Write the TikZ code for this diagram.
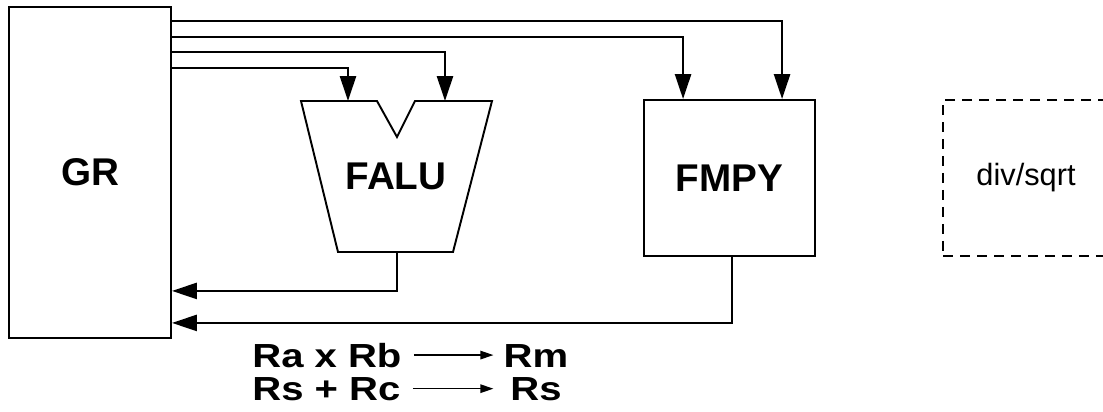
\documentclass[tikz,border=0pt]{standalone}
\usepackage{fontspec}
\setmainfont{Liberation Sans}
\newfontfamily\eqfont[FakeStretch=1.2]{Liberation Sans}
\usetikzlibrary{arrows.meta,calc,positioning}

\begin{document}
\begin{tikzpicture}[x=0.02cm,y=-0.02cm,
  unit/.style={rectangle,draw,line width=1.1pt,inner sep=0pt,
    font=\fontsize{22}{26}\selectfont\bfseries},
  wire/.style={line width=1.5pt,-{Triangle[length=0.5cm,width=0.32cm]}},
  dashbox/.style={rectangle,draw,line width=0.8pt,dash pattern=on 0.2cm off 0.14cm,
    inner sep=0pt,font=\fontsize{17.5}{21}\selectfont},
  eqn/.style={inner sep=0pt,anchor=base west,font=\eqfont\fontsize{19}{23}\selectfont\bfseries},
  eqarrow/.style={line width=0.8pt,-{Triangle[length=0.26cm,width=0.17cm]},
    shorten <=0.24cm,shorten >=0.2cm}
]
\clip (0,0) rectangle (1103,412);

% units
\node[unit,minimum width=3.24cm,minimum height=6.62cm] (gr) at (90,172.5) {GR};
\node[unit,minimum width=3.42cm,minimum height=3.12cm] (fmpy) at (729.5,178) {FMPY};

% FALU outline with notch
\draw[line width=1.1pt] (301,101) -- (377,101) -- (397,137) -- (415,101)
  -- (492,101) -- (453,252) -- (338,252) -- cycle;
\node[font=\fontsize{22}{26}\selectfont\bfseries] (falu) at (396,176) {FALU};
\coordinate (alu-a) at (348,101);
\coordinate (alu-b) at (445,101);
\coordinate (alu-out) at (397,252);

% unused unit, right side runs off the page
\node[dashbox,minimum width=3.32cm,minimum height=3.12cm] (dsq) at (1026,178) {div/sqrt};

% operand buses
\draw[wire] ($(gr.north east)+(0,15)$) -| ($(fmpy.north west)+(139,0)$);
\draw[wire] ($(gr.north east)+(0,31)$) -| ($(fmpy.north west)+(40,0)$);
\draw[wire] ($(gr.north east)+(0,46)$) -| (alu-b);
\draw[wire] ($(gr.north east)+(0,62)$) -| (alu-a);

% result buses
\draw[wire] (alu-out) |- ($(gr.south east)+(0,-48)$);
\draw[wire] ($(fmpy.south west)+(89,0)$) |- ($(gr.south east)+(0,-16)$);

% operations
\node[eqn] (rab) at (252,367) {Ra x Rb};
\node[eqn] (rsc) at (252,400) {Rs + Rc};
\node[eqn,anchor=base] (rm) at (536,367) {Rm};
\node[eqn,anchor=base] (rs) at (536,400) {Rs};
\draw[eqarrow] (rab.east) -- (rab.east -| rm.west);
\draw[eqarrow] (rsc.east) -- (rsc.east -| rm.west);
\end{tikzpicture}
\end{document}
